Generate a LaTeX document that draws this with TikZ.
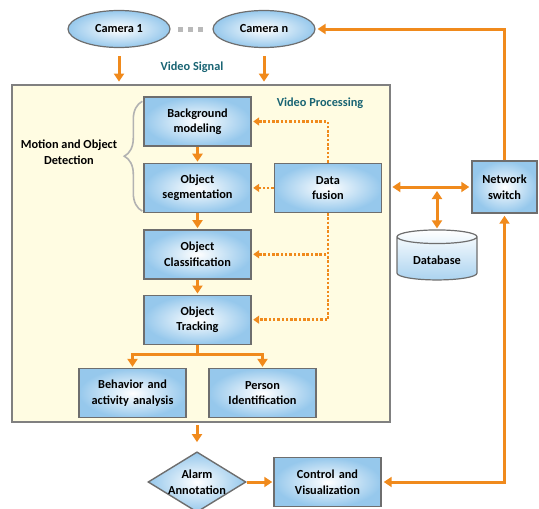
\documentclass[tikz,border=0pt]{standalone}
\usepackage{fontspec}
\setmainfont{Carlito}
\usetikzlibrary{shapes.geometric,arrows.meta,positioning,decorations.pathreplacing,calc}

\definecolor{linkorange}{RGB}{240,138,28}
\definecolor{boxblue}{RGB}{150,200,236}
\definecolor{boxline}{RGB}{110,110,110}
\definecolor{panelfill}{RGB}{255,252,226}
\definecolor{panelline}{RGB}{128,128,128}
\definecolor{labelteal}{RGB}{25,100,115}

\begin{document}
\begin{tikzpicture}[
    x=1pt, y=-1pt,
    node distance=16pt and 22pt,
    stage/.style={rectangle, draw=boxline, line width=1.4pt, inner color=white, outer color=boxblue, text width=104pt, align=center, minimum width=107pt, minimum height=49pt, inner sep=1pt, font=\bfseries\fontsize{12.3}{15.5}\selectfont},
    camera/.style={ellipse, draw=boxline, line width=1.2pt, inner color=white, outer color=boxblue, minimum width=102pt, minimum height=37pt, inner sep=0pt, font=\bfseries\fontsize{12.3}{15.5}\selectfont},
    decision/.style={diamond, draw=boxline, line width=1.4pt, inner color=white, outer color=boxblue, aspect=1.6, inner sep=0pt, minimum width=98pt, minimum height=60pt, align=center, font=\bfseries\fontsize{12.3}{15.5}\selectfont},
    store/.style={cylinder, shape border rotate=90, aspect=0.25, draw=boxline, line width=1.2pt, top color=white, bottom color=boxblue!80, minimum width=80pt, minimum height=50pt, font=\bfseries\fontsize{12.3}{15.5}\selectfont},
    panel/.style={rectangle, draw=panelline, line width=2.8pt, fill=panelfill, minimum width=378pt, minimum height=337pt},
    caption/.style={font=\bfseries\fontsize{12.3}{15.5}\selectfont, text=labelteal},
    sidenote/.style={align=center, font=\bfseries\fontsize{12.3}{15.5}\selectfont},
    gapdot/.style={rectangle, fill=gray!55, minimum size=5pt, inner sep=0pt},
    flow/.style={draw=linkorange, line width=3pt, -{Triangle[length=8pt,width=10pt]}},
    both/.style={draw=linkorange, line width=3pt, {Triangle[length=8pt,width=10pt]}-{Triangle[length=8pt,width=10pt]}},
    feed/.style={draw=linkorange, line width=2.5pt, dash pattern=on 2.5pt off 1.8pt, -{Triangle[length=6pt,width=8pt]}, shorten >=1.5pt},
    bracket/.style={draw=gray!60, line width=1.6pt, decorate, decoration={brace, amplitude=18pt}}
]
\useasboundingbox (0,0) rectangle (539,509);

% cameras
\node[camera] (cam1) at (119,29) {Camera 1};
\node[camera] (camn) at (264,29) {Camera n};
\foreach \i in {1,2,3}
    \node[gapdot] (dot\i) at (170+10*\i,29) {};
\node[caption] (signal) at (192,67) {Video Signal};

% processing panel
\node[panel] (vp) at (201,253.5) {};
\node[caption] (vplabel) at (320,103) {Video Processing};

\node[stage] (bg) at (197.5,121.5) {Background\\modeling};
\node[stage, below=of bg] (seg) {Object\\segmentation};
\node[stage, below=of seg] (class) {Object\\Classification};
\node[stage, below=15pt of class] (track) {Object\\Tracking};
\node[stage, right=of seg] (fusion) {Data\\fusion};
\node[stage, below=23pt of track, xshift=-65pt] (behav) {Behavior and\\activity analysis};
\node[stage, below=23pt of track, xshift=65pt] (person) {Person\\Identification};

\draw[bracket] ([xshift=-1pt,yshift=2pt]seg.south west) -- ([xshift=-1pt,yshift=-5pt]bg.north west);
\node[sidenote] (motion) at (69,152) {Motion and Object\\Detection};

% outside the panel
\node[stage, minimum width=65pt, minimum height=52pt, text width=62pt] (sw) at (504.5,187) {Network\\switch};
\node[store] (db) at (437,260) {Database};
\node[decision] (alarm) at (197,482) {Alarm\\Annotation};
\node[stage] (ctrl) at (327.5,482) {Control and\\Visualization};

% --- Arrows ---
\draw[flow, shorten <=8pt, shorten >=2pt] (cam1) -- (cam1 |- vp.north);
\draw[flow, shorten <=8pt, shorten >=2pt] (camn) -- (camn |- vp.north);

\draw[flow, shorten >=1pt] (bg) -- (seg);
\draw[flow, shorten >=1pt] (seg) -- (class);
\draw[flow, shorten >=1pt] (class) -- (track);
\draw[flow, shorten >=1pt] (track.south) -- ([yshift=-10pt]track.south) -| (behav.north);
\draw[flow, shorten >=1pt] ([yshift=-10pt]track.south) -| (person.north);

\draw[feed] (fusion.north) |- (bg.east);
\draw[feed] (fusion) -- (seg);
\draw[feed] (fusion.south) |- (class.east);
\draw[feed] (fusion.south) |- (track.east);

\draw[both, shorten <=1pt, shorten >=2pt] (vp.east |- sw) -- (sw);
\coordinate (hub) at (db.north |- sw);
\draw[both, shorten <=4pt, shorten >=1pt] (hub) -- (db.north);
\draw[flow, shorten >=2pt] (sw.north) |- (camn.east);
\draw[both, shorten <=2pt, shorten >=2pt] (ctrl.east) -| (sw.south);

\draw[flow, shorten <=2pt, shorten >=9pt] (vp.south -| alarm) -- (alarm.north);
\draw[flow, shorten >=1pt] (alarm) -- (ctrl);

\end{tikzpicture}
\end{document}
